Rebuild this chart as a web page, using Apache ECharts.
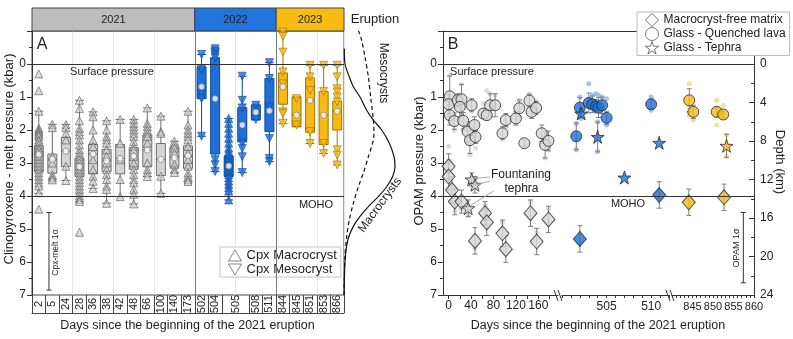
<!DOCTYPE html>
<html>
<head>
<meta charset="utf-8">
<script src="https://cdn.jsdelivr.net/npm/echarts@6.0.0/dist/echarts.min.js"></script>
<style>
html,body{margin:0;padding:0;background:#fff;}
#chart{width:793px;height:339px;}
</style>
</head>
<body>
<div id="chart"></div>
<script>
// ================= DATA =================
// ---- Panel A: clinopyroxene-melt pressure (kbar) per sampling day ----
const years = ['2021', '2022', '2023'];
const yearColumns = [12, 6, 5];
const catDays = ['2','5','24','28','36','38','42','48','66','100','140','173',
                 '502','504','505a','505b','508','511',
                 '844','845','851','853','866'];
const boxMin = [1.43,1.83,1.83,1.10,1.45,1.72,1.68,1.68,1.33,1.58,2.34,1.43,
                -0.29,-0.46,1.65,0.37,1.22,-0.04,
                -0.97,1.00,0.04,0.04,0.04];
const boxQ1  = [2.48,2.73,2.23,2.86,2.44,2.59,2.44,2.53,2.15,2.41,2.51,2.48,
                0.09,-0.19,2.79,1.32,1.25,0.44,
                0.27,1.00,0.42,0.83,1.13];
const boxMid = [2.74,2.89,2.64,3.11,2.73,2.94,2.86,2.79,2.61,2.89,2.84,2.78,
                0.69,1.05,3.09,1.85,1.46,1.42,
                0.69,1.55,1.10,1.55,1.43];
const boxQ3  = [3.26,3.31,3.11,3.41,3.33,3.26,3.33,3.19,3.11,3.38,3.13,3.16,
                1.05,2.73,3.41,2.36,1.68,2.05,
                1.22,1.90,2.07,2.44,2.00];
const boxMax = [3.92,3.51,3.53,4.17,3.77,4.22,4.02,4.24,3.41,3.92,3.29,3.56,
                2.19,3.26,4.12,3.29,1.70,2.96,
                1.80,1.90,2.41,2.71,3.06];
// Cpx macrocrysts (up triangles) per column
const macroVals = [
  [0.30,0.81,1.43,1.95,2.0,2.05,2.1,2.15,2.2,2.3,2.35,2.45,2.55,2.6,2.7,2.8,2.9,3.0,3.1,3.2,3.3,3.4,3.5,3.6,3.7,3.9,4.4],
  [1.83,1.93,2.8,3.0,3.36,3.45,3.51],
  [1.83,1.93,2.1,2.3,3.1,3.53],
  [1.10,1.35,1.72,1.95,2.05,2.15,2.3,2.45,2.6,2.7,2.8,2.9,3.0,3.1,3.2,3.3,3.4,3.5,3.6,3.7,3.8,3.9,4.0,4.1,4.17,5.1],
  [1.45,1.6,2.0,2.3,2.5,2.9,3.2,3.4,3.55,3.77],
  [1.72,2.0,2.2,2.3,2.4,2.6,2.8,3.0,3.2,3.35,3.5,3.7,3.8,4.22],
  [1.68,2.4,2.9,3.5,4.02],
  [1.68,1.8,1.9,2.0,2.1,2.2,2.35,2.5,2.6,2.8,3.0,3.2,3.35,3.5,3.6,3.8,3.95,4.24],
  [1.33,1.8,1.9,2.0,2.1,2.2,2.4,3.0,3.2,3.3,3.41],
  [1.58,2.05,2.1,3.4,3.92],
  [2.34,2.45,2.55,2.7,3.05,3.2,3.29],
  [1.43,1.85,2.0,2.1,2.2,2.3,2.5,2.7,2.9,3.1,3.3,3.4,3.5,3.56],
  [], [],
  [1.65,1.8,1.95,2.1,2.25,2.4,2.55,2.65,2.75,2.85,2.95,3.05,3.15,3.25,3.35,3.45,3.55,3.65,3.75,3.85,4.12],
  [], [], [],
  [], [], [], [], []
];
// Cpx mesocrysts (down triangles) per column
const mesoVals = [
  [],[],[],[],[],[],[],[],[],[],[],[],
  [-0.29,0.17,0.9,1.05,2.19],
  [-0.46,-0.39,-0.31,-0.26,-0.19,2.9,3.05,3.26],
  [],
  [0.37,1.1,1.33,2.4,2.56,2.81,3.29],
  [1.25,1.68],
  [-0.04,0.44,1.3,2.26,2.86,2.96],
  [-0.97,-0.84,-0.36,0.24,0.6,1.45,1.5,1.80],
  [1.05,1.85],
  [0.04,0.39,0.8,2.05,2.41],
  [0.04,0.83,2.41,2.71],
  [0.04,0.39,0.75,0.85,1.0,1.15,2.6,2.76,3.06]
];
const cpxMeltSigma = 1.175;
// Eruption-wide distributions (relative density vs pressure)
const macroCurveP = [-0.46,0,0.39,0.69,1.0,1.4,1.7,2.0,2.4,2.81,3.11,3.41,3.72,4.02,4.32,4.62,4.92,5.28,5.73,6.3,7.0];
const macroCurveD = [0.006,0.018,0.095,0.167,0.286,0.405,0.524,0.673,0.81,0.893,0.911,0.869,0.762,0.613,0.435,0.286,0.167,0.077,0.03,0.01,0.005];
const mesoCurveP  = [-1.02,-0.72,-0.21,0.39,1.0,1.7,2.1,2.4,2.81,3.31,3.72,4.22,4.72,5.23,5.83,6.5,7.0];
const mesoCurveD  = [0.256,0.315,0.375,0.435,0.476,0.524,0.536,0.51,0.435,0.345,0.256,0.167,0.095,0.048,0.018,0.005,0.0];

// ---- Panel B: OPAM pressure (kbar) ----
const lava2021Day = [2,0,2,10,16,23,20,26,34,41,46,38,48,62,68,74,83,102,96,120,126,135,144,148,156,166,172,178];
const lava2021P   = [0.98,1.22,1.55,1.73,1.10,1.07,1.30,1.72,2.05,1.25,1.85,2.31,2.21,1.50,1.55,1.25,1.25,1.70,2.10,1.65,1.34,2.40,1.11,1.45,1.33,2.10,2.45,2.33];
const lava2021Err = [0.62,0.3,0.3,0.25,0.2,0.45,0.3,0.25,0.3,0.2,0.25,0.4,0.2,0.15,0.15,0.35,0.35,0.2,0.2,0.2,0.25,0.1,0.2,0.2,0.2,0.25,0.4,0.3];
const matrix2021Day = [0,0,6,11,23,47,65,68,96,102,146,157,178];
const matrix2021P   = [3.10,3.41,3.82,4.17,4.17,5.36,4.52,4.80,5.13,5.61,4.52,5.38,4.71];
const matrix2021Err = [0.38,0.4,0.4,0.4,0.35,0.4,0.35,0.4,0.4,0.4,0.4,0.4,0.4];
const tephra2021Day = [41,47,35];
const tephra2021P   = [3.50,3.66,4.37];
const tephra2021Err = [0.2,0.25,0.25];
const indiv2021 = [[2,0.35],[0,2.5],[3,2.95],[10,2.0],[23,0.62],[26,2.0],[34,2.4],[38,2.75],[46,2.1],[48,2.55],
  [62,1.2],[68,0.8],[74,0.9],[83,0.95],[102,1.9],[120,1.45],[126,1.1],[144,0.9],[156,1.15],[166,2.35],[172,2.85],[178,2.6],
  [0,3.5],[6,4.2],[11,4.45],[23,4.4],[35,4.6],[47,5.6],[65,4.3],[96,4.8],[146,4.2],[157,5.1],[178,4.4]];

const lava2022Day = [501.6,502.0,503.0,503.4,503.8,504.1,504.5,505.0,510.0];
const lava2022P   = [2.19,1.32,1.18,1.22,1.28,1.32,1.25,1.63,1.22];
const lava2022Err = [0.4,0.3,0.3,0.25,0.2,0.3,0.25,0.2,0.15];
const matrix2022Day = [502.0,510.9];
const matrix2022P   = [5.30,3.97];
const matrix2022Err = [0.4,0.4];
const tephra2022Day = [502.15,504.0,507.0,510.9];
const tephra2022P   = [1.50,2.21,3.44,2.39];
const tephra2022Err = [0.12,0.45,0,0];
const indiv2022 = [[501.6,1.8],[501.6,2.6],[502.0,1.0],[502.15,1.65],[503.0,0.6],[503.4,0.95],[503.8,0.9],[504.1,0.95],
  [504.5,1.0],[505.0,1.05],[505.0,1.85],[504.0,1.75],[504.0,2.65],[510.0,1.0],[510.0,1.4]];

const lava2023Day = [844.2,845.2,850.9,852.5];
const lava2023P   = [1.10,1.45,1.45,1.53];
const lava2023Err = [0.35,0.2,0.15,0.1];
const matrix2023Day = [844.1,852.7];
const matrix2023P   = [4.19,4.04];
const matrix2023Err = [0.4,0.4];
const tephra2023Day = [853.3];
const tephra2023P   = [2.48];
const tephra2023Err = [0.35];
const indiv2023 = [[844.2,0.6],[845.2,1.7],[850.9,1.1],[850.9,1.85],[852.5,1.25],[853.3,2.15],[853.3,2.8],[844.2,1.55]];
const opamSigma = 1.065;

// tick labels
const pressureRange = [-1, 7];
const b1Labels = [0,40,80,120,160];
const b2Labels = [505,510];
const b3Labels = [845,850,855,860];
const depthLabels = [0,4,8,12,16,20,24];
const depthMinor = [2,6,10,14,18,22];

// ================= STYLE / LAYOUT =================
const FONT = "'Liberation Sans', Arial, Helvetica, sans-serif";
const INK = '#222';
const AX = '#333';
const yearFill = ['#d4d4d4', '#1f6fd6', '#f6b916'];
const yearEdge = ['#6f6f6f', '#0d4a9c', '#a07600'];
const headerFill = ['#bdbdbd', '#1f74dd', '#f8bb12'];
const faintFill = ['#d2d2d2', '#8db6ea', '#f5d679'];
const STAR = 'path://M50,0L61.8,35.1L97.6,35.1L68.8,56.8L79.4,90.9L50,69.5L20.6,90.9L31.2,56.8L2.4,35.1L38.2,35.1Z';
const TRI_DOWN = 'path://M0,0L20,0L10,17Z';

const colYear = [];
yearColumns.forEach((n, y) => { for (let k = 0; k < n; k++) colYear.push(y); });
const yearStart = [0];
yearColumns.forEach(n => yearStart.push(yearStart[yearStart.length - 1] + n));

// table under panel A (merge duplicate days)
const tableLabels = [], tablePos = [], tableEdges = [0];
for (let i = 0; i < catDays.length;) {
  const lab = catDays[i].replace(/[a-z]$/, '');
  let j = i + 1;
  while (j < catDays.length && catDays[j].replace(/[a-z]$/, '') === lab) j++;
  tableLabels.push(lab); tablePos.push((i + j) / 2); tableEdges.push(j);
  i = j;
}

function errRender(params, api) {
  const x = api.value(0), y = api.value(1), e = api.value(2);
  if (!(e > 0)) return null;
  const a = api.coord([x, y - e]), b = api.coord([x, y + e]);
  const cw = 2.5;
  const st = { stroke: api.visual('color'), lineWidth: 1 };
  return { type: 'group', children: [
    { type: 'line', shape: { x1: a[0], y1: a[1], x2: b[0], y2: b[1] }, style: st },
    { type: 'line', shape: { x1: a[0] - cw, y1: a[1], x2: a[0] + cw, y2: a[1] }, style: st },
    { type: 'line', shape: { x1: b[0] - cw, y1: b[1], x2: b[0] + cw, y2: b[1] }, style: st }
  ]};
}
const zip3 = (d, p, e) => d.map((v, k) => [v, p[k], e[k]]);
const zip2 = (d, p) => d.map((v, k) => [v, p[k]]);

const boxData = catDays.map((c, k) => ({
  value: [boxMin[k], boxQ1[k], boxMid[k], boxQ3[k], boxMax[k]],
  itemStyle: { color: yearFill[colYear[k]], borderColor: yearEdge[colYear[k]] }
}));
function triData(vals) {
  const out = [];
  vals.forEach((arr, k) => arr.forEach(v => out.push({
    value: [k, v],
    itemStyle: colYear[k] === 0
      ? { color: 'rgba(205,205,205,0.85)', borderColor: '#5a5a5a' }
      : { color: yearFill[colYear[k]], borderColor: yearEdge[colYear[k]] }
  })));
  return out;
}

const hiddenAxis = (grid, min, max, inverse) => ({ type: 'value', gridIndex: grid, min, max, inverse: !!inverse, show: false });

const xAxes = [
  // 0: panel A categories
  { type: 'category', gridIndex: 0, data: catDays, boundaryGap: true,
    axisLine: { show: false, onZero: false }, axisTick: { show: false }, axisLabel: { show: false },
    splitLine: { show: true, lineStyle: { color: '#e4e4e4', width: 1 } } },
  // 1: label table
  { type: 'value', gridIndex: 0, min: 0, max: catDays.length, position: 'bottom',
    axisLine: { show: false, onZero: false }, splitLine: { show: false },
    axisTick: { show: true, customValues: tableEdges, length: 18, inside: false, lineStyle: { color: '#444' } },
    axisLabel: { show: true, customValues: tablePos, rotate: 90, align: 'center', verticalAlign: 'middle',
      margin: 9, fontSize: 11, color: INK, fontFamily: FONT,
      formatter: v => { const k = tablePos.findIndex(p => Math.abs(p - v) < 1e-6); return k >= 0 ? tableLabels[k] : ''; } } },
  // 2: table bottom line
  { type: 'value', gridIndex: 0, min: 0, max: catDays.length, position: 'bottom', offset: 18,
    axisLine: { show: true, onZero: false, lineStyle: { color: '#444' } }, axisTick: { show: false },
    axisLabel: { show: false }, splitLine: { show: false } },
  // 3: curves
  hiddenAxis(1, 0, 1),
  // 4: header
  hiddenAxis(2, 0, catDays.length),
  // 5: B frame top line
  { type: 'value', gridIndex: 3, min: 0, max: 1, position: 'top',
    axisLine: { show: true, onZero: false, lineStyle: { color: AX } }, axisTick: { show: false },
    axisLabel: { show: false }, splitLine: { show: false } },
  // 6-8: B segments
  { type: 'value', gridIndex: 4, min: -10, max: 195, position: 'bottom',
    axisLine: { show: true, onZero: false, lineStyle: { color: AX } },
    axisTick: { show: true, customValues: [0,20,40,60,80,100,120,140,160,180], length: 4, lineStyle: { color: AX } },
    axisLabel: { customValues: b1Labels, fontSize: 12, color: INK, margin: 5, fontFamily: FONT }, splitLine: { show: false } },
  { type: 'value', gridIndex: 5, min: 500, max: 512, interval: 1, position: 'bottom',
    axisLine: { show: true, onZero: false, lineStyle: { color: AX } },
    axisTick: { show: true, length: 3, lineStyle: { color: AX } },
    axisLabel: { customValues: b2Labels, fontSize: 12, color: INK, margin: 6, fontFamily: FONT }, splitLine: { show: false } },
  { type: 'value', gridIndex: 6, min: 840, max: 860, interval: 1, position: 'bottom',
    axisLine: { show: true, onZero: false, lineStyle: { color: AX } },
    axisTick: { show: true, length: 3, lineStyle: { color: AX } },
    axisLabel: { customValues: b3Labels, fontSize: 11, color: INK, margin: 6, fontFamily: FONT }, splitLine: { show: false } }
];

const pressureAxis = (grid) => ({
  type: 'value', gridIndex: grid, min: pressureRange[0], max: pressureRange[1], interval: 1, inverse: true, position: 'left',
  axisLine: { show: true, onZero: false, lineStyle: { color: AX } },
  axisTick: { show: true, length: 5, lineStyle: { color: AX } },
  minorTick: { show: true, splitNumber: 2, length: 3, lineStyle: { color: AX } },
  axisLabel: { showMinLabel: false, fontSize: 12, color: INK, margin: 6, fontFamily: FONT },
  splitLine: { show: false }
});

const yAxes = [
  pressureAxis(0),                                   // 0
  hiddenAxis(1, pressureRange[0], pressureRange[1], true), // 1 curves
  hiddenAxis(2, 0, 1),                               // 2 header
  pressureAxis(3),                                   // 3 B left
  { type: 'value', gridIndex: 3, min: pressureRange[0] * 24 / 7, max: 24, inverse: true, position: 'right',
    axisLine: { show: true, onZero: false, lineStyle: { color: AX } },
    axisTick: { show: true, inside: true, length: 5, customValues: depthLabels, lineStyle: { color: AX } },
    axisLabel: { customValues: depthLabels, fontSize: 12, color: INK, margin: 6, fontFamily: FONT },
    splitLine: { show: false } },                    // 4 depth
  { type: 'value', gridIndex: 3, min: pressureRange[0] * 24 / 7, max: 24, inverse: true, position: 'right',
    axisLine: { show: false, onZero: false },
    axisTick: { show: true, inside: true, length: 3, customValues: depthMinor, lineStyle: { color: AX } },
    axisLabel: { show: false }, splitLine: { show: false } }, // 5 depth minor
  hiddenAxis(4, pressureRange[0], pressureRange[1], true), // 6
  hiddenAxis(5, pressureRange[0], pressureRange[1], true), // 7
  hiddenAxis(6, pressureRange[0], pressureRange[1], true)  // 8
];

const solidLine = (color, width) => ({ color, width, type: 'solid' });

const series = [
  // ---- Panel A ----
  { type: 'boxplot', name: 'box', xAxisIndex: 0, yAxisIndex: 0, data: boxData, boxWidth: [9, 9],
    itemStyle: { borderWidth: 1 }, z: 2, silent: true },
  { type: 'scatter', name: 'Cpx Macrocryst', xAxisIndex: 0, yAxisIndex: 0, data: triData(macroVals),
    symbol: 'triangle', symbolSize: 8, itemStyle: { borderWidth: 0.8, color: '#ddd', borderColor: '#555' }, z: 3 },
  { type: 'scatter', name: 'Cpx Mesocryst', xAxisIndex: 0, yAxisIndex: 0, data: triData(mesoVals),
    symbol: 'triangle', symbolRotate: 180, symbolSize: 8, itemStyle: { borderWidth: 0.8, color: '#ddd', borderColor: '#555' }, z: 3 },
  { type: 'scatter', name: 'mean', xAxisIndex: 0, yAxisIndex: 0, data: boxMid.map((v, k) => [k, v]),
    symbol: 'circle', symbolSize: 6, itemStyle: { color: '#fff', borderColor: '#8a8a8a', borderWidth: 1 }, z: 5 },
  { type: 'custom', name: 'cpx sigma', xAxisIndex: 1, yAxisIndex: 0, renderItem: errRender,
    encode: { x: 0, y: 1 }, data: [[1.25, 4.5 + cpxMeltSigma, cpxMeltSigma]], itemStyle: { color: '#333' }, z: 4,
    markLine: { silent: true, symbol: 'none', label: { show: false },
      data: [
        ...yearStart.slice(1, -1).map(v => ({ xAxis: v, lineStyle: solidLine('#7a7a7a', 1) })),
        { yAxis: 0, lineStyle: solidLine('#333', 1.2) },
        { yAxis: 4, lineStyle: solidLine('#333', 1.2) }
      ] } },
  // ---- distributions ----
  { type: 'line', name: 'macro density', xAxisIndex: 3, yAxisIndex: 1, data: zip2(macroCurveD, macroCurveP),
    smooth: 0.3, showSymbol: false, symbol: 'none', lineStyle: { color: '#111', width: 1.2 }, z: 2 },
  { type: 'line', name: 'meso density', xAxisIndex: 3, yAxisIndex: 1, data: zip2(mesoCurveD, mesoCurveP),
    smooth: 0.3, showSymbol: false, symbol: 'none', lineStyle: { color: '#111', width: 1.2, type: [4, 3] }, z: 2 },
  // ---- header ----
  { type: 'line', name: 'header', xAxisIndex: 4, yAxisIndex: 2, data: [[0, -5]], showSymbol: false, symbol: 'none',
    markArea: { silent: true,
      itemStyle: { borderColor: '#444', borderWidth: 1 },
      label: { show: true, position: 'inside', color: INK, fontSize: 11, fontFamily: FONT },
      data: years.map((yname, y) => [
        { xAxis: yearStart[y], name: yname, itemStyle: { color: headerFill[y], borderColor: '#444', borderWidth: 1 } },
        { xAxis: yearStart[y + 1] }
      ]) } },
  // ---- Panel B frame lines ----
  { type: 'line', name: 'frameB', xAxisIndex: 5, yAxisIndex: 3, data: [[0.5, -5]], showSymbol: false, symbol: 'none',
    markLine: { silent: true, symbol: 'none', label: { show: false },
      data: [ { yAxis: 0, lineStyle: solidLine('#333', 1.2) }, { yAxis: 4, lineStyle: solidLine('#333', 1.2) } ] } }
];

const segs = [
  { lava: zip3(lava2021Day, lava2021P, lava2021Err), matrix: zip3(matrix2021Day, matrix2021P, matrix2021Err),
    tephra: zip3(tephra2021Day, tephra2021P, tephra2021Err), indiv: indiv2021 },
  { lava: zip3(lava2022Day, lava2022P, lava2022Err), matrix: zip3(matrix2022Day, matrix2022P, matrix2022Err),
    tephra: zip3(tephra2022Day, tephra2022P, tephra2022Err), indiv: indiv2022 },
  { lava: zip3(lava2023Day, lava2023P, lava2023Err), matrix: zip3(matrix2023Day, matrix2023P, matrix2023Err),
    tephra: zip3(tephra2023Day, tephra2023P, tephra2023Err), indiv: indiv2023 }
];
segs.forEach((s, g) => {
  const xi = 6 + g, yi = 6 + g;
  const faint = { type: 'scatter', name: 'individual', xAxisIndex: xi, yAxisIndex: yi, data: s.indiv,
    symbolSize: 5, itemStyle: { color: faintFill[g] }, z: 1, silent: true };
  if (g === 0) {
    faint.markLine = { silent: true, symbol: 'none', label: { show: false }, lineStyle: solidLine('#a8a8a8', 1),
      data: [
        [{ coord: [74, 3.42] }, { coord: [44, 3.48] }],
        [{ coord: [74, 3.55] }, { coord: [50, 3.66] }],
        [{ coord: [80, 3.85] }, { coord: [38, 4.3] }]
      ] };
  }
  series.push(faint);
  series.push({ type: 'custom', name: 'err', xAxisIndex: xi, yAxisIndex: yi, renderItem: errRender, encode: { x: 0, y: 1 },
    data: [...s.lava, ...s.tephra, ...s.matrix], itemStyle: { color: '#7f7f7f' }, z: 2, silent: true });
  const mk = { color: yearFill[g], borderColor: '#2b2b2b', borderWidth: 1 };
  series.push({ type: 'scatter', name: 'Macrocryst-free matrix', xAxisIndex: xi, yAxisIndex: yi,
    data: s.matrix.map(r => [r[0], r[1]]), symbol: 'diamond', symbolSize: [13, 15], itemStyle: mk, z: 3 });
  series.push({ type: 'scatter', name: 'Glass - Quenched lava', xAxisIndex: xi, yAxisIndex: yi,
    data: s.lava.map(r => [r[0], r[1]]), symbol: 'circle', symbolSize: 11, itemStyle: mk, z: 3 });
  series.push({ type: 'scatter', name: 'Glass - Tephra', xAxisIndex: xi, yAxisIndex: yi,
    data: s.tephra.map(r => [r[0], r[1]]), symbol: STAR, symbolSize: 13, itemStyle: mk, z: 4 });
});
series.push({ type: 'custom', name: 'opam sigma', xAxisIndex: 8, yAxisIndex: 8, renderItem: errRender, encode: { x: 0, y: 1 },
  data: [[857.4, 4.5 + opamSigma, opamSigma]], itemStyle: { color: '#333' }, z: 4 });

function txt(x, y, text, size, rotation, extra) {
  return Object.assign({ type: 'text', x, y, rotation: rotation || 0, z: 100, silent: true,
    style: { text, fontSize: size, fontFamily: FONT, fill: INK, align: 'center', verticalAlign: 'middle' } }, extra || {});
}
function seg(x1, y1, x2, y2) {
  return { type: 'line', z: 100, silent: true, shape: { x1, y1, x2, y2 }, style: { stroke: AX, lineWidth: 1 } };
}

const option = {
  animation: false,
  backgroundColor: '#fff',
  textStyle: { fontFamily: FONT },
  grid: [
    { left: 32, top: 31, width: 312, height: 264, show: true, borderColor: '#444', borderWidth: 1, backgroundColor: 'transparent', outerBoundsMode: 'none' },
    { left: 344, top: 31, width: 56, height: 264, outerBoundsMode: 'none' },
    { left: 32, top: 8, width: 312, height: 23, outerBoundsMode: 'none' },
    { left: 443, top: 31, width: 311, height: 264, outerBoundsMode: 'none' },
    { left: 443, top: 31, width: 115, height: 264, outerBoundsMode: 'none' },
    { left: 562, top: 31, width: 107, height: 264, outerBoundsMode: 'none' },
    { left: 672, top: 31, width: 82, height: 264, outerBoundsMode: 'none' }
  ],
  xAxis: xAxes,
  yAxis: yAxes,
  legend: [
    { left: 220, top: 247, orient: 'vertical', selectedMode: false,
      backgroundColor: '#fff', borderColor: '#c4c4c4', borderWidth: 1, padding: [2, 4, 1, 8], itemGap: 1,
      itemWidth: 13, itemHeight: 11, textStyle: { fontSize: 13, color: INK, fontFamily: FONT },
      data: [
        { name: 'Cpx Macrocryst', icon: 'triangle', itemStyle: { color: '#fff', borderColor: '#666', borderWidth: 1 } },
        { name: 'Cpx Mesocryst', icon: TRI_DOWN, itemStyle: { color: '#fff', borderColor: '#666', borderWidth: 1 } }
      ] },
    { left: 637, top: 12, orient: 'vertical', selectedMode: false,
      backgroundColor: '#fff', borderColor: '#b8b8b8', borderWidth: 1, padding: [1, 4, 1, 8], itemGap: 0,
      itemWidth: 13, itemHeight: 13, textStyle: { fontSize: 12, color: INK, fontFamily: FONT },
      data: [
        { name: 'Macrocryst-free matrix', icon: 'diamond', itemStyle: { color: '#fff', borderColor: '#555', borderWidth: 1 } },
        { name: 'Glass - Quenched lava', icon: 'circle', itemStyle: { color: '#fff', borderColor: '#555', borderWidth: 1 } },
        { name: 'Glass - Tephra', icon: STAR, itemStyle: { color: '#fff', borderColor: '#555', borderWidth: 1 } }
      ] }
  ],
  graphic: [
    txt(42, 45, 'A', 16),
    txt(453, 45, 'B', 16),
    txt(112, 71.5, 'Surface pressure', 11),
    txt(492, 71.5, 'Surface pressure', 11),
    txt(316, 205, 'MOHO', 11),
    txt(628, 204, 'MOHO', 11),
    txt(521, 175, 'Fountaning', 12),
    txt(521.5, 189, 'tephra', 12),
    txt(375, 19, 'Eruption', 13),
    txt(383, 73, 'Mesocrysts', 12, -Math.PI / 2),
    txt(380, 205, 'Macrocrysts', 12, 0.94),
    txt(9.5, 159, 'Clinopyroxene - melt pressure (kbar)', 13, Math.PI / 2),
    txt(419, 161, 'OPAM pressure (kbar)', 13, Math.PI / 2),
    txt(780, 162, 'Depth (km)', 13, -Math.PI / 2),
    txt(187.5, 326, 'Days since the beginning of the 2021 eruption', 12.5),
    txt(598, 326, 'Days since the beginning of the 2021 eruption', 12.5),
    txt(55.5, 252.5, 'Cpx-melt 1σ', 8.5, Math.PI / 2),
    txt(736.5, 248, 'OPAM 1σ', 9, Math.PI / 2),
    seg(554, 290, 558, 301), seg(558, 290, 562, 301),
    seg(666, 290, 670, 301), seg(670, 290, 674, 301)
  ],
  series
};

const chart = echarts.init(document.getElementById('chart'), null, { renderer: 'canvas' });
chart.setOption(option);
</script>
</body>
</html>
